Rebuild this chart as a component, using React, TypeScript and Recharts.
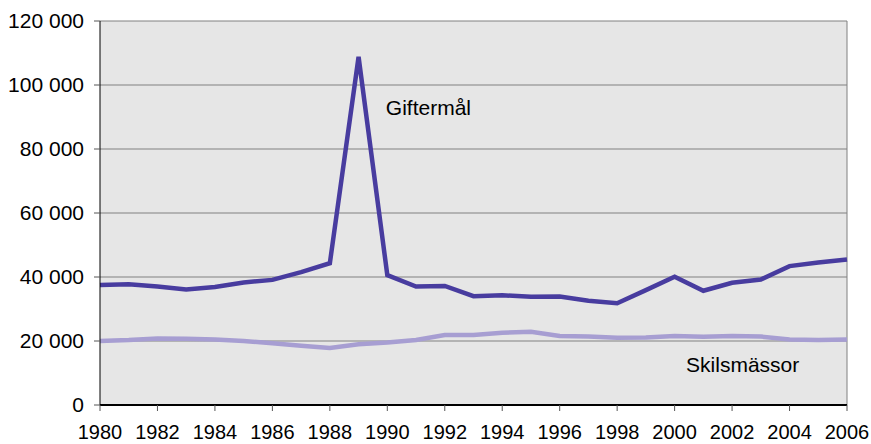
import { CartesianGrid, Line, LineChart, ReferenceDot, ReferenceLine, XAxis, YAxis } from 'recharts';

// Giftermål och skilsmässor 1980–2006
const years = [
  1980, 1981, 1982, 1983, 1984, 1985, 1986, 1987, 1988, 1989, 1990, 1991, 1992, 1993,
  1994, 1995, 1996, 1997, 1998, 1999, 2000, 2001, 2002, 2003, 2004, 2005, 2006,
];
const giftermal = [
  37500, 37700, 37000, 36100, 36900, 38300, 39100, 41500, 44300, 108800, 40600, 37000, 37200,
  34000, 34300, 33800, 33900, 32600, 31800, 35900, 40100, 35700, 38200, 39200, 43400, 44500,
  45500,
];
const skilsmassor = [
  20000, 20300, 20800, 20700, 20500, 20000, 19300, 18500, 17800, 19000, 19500, 20300, 21900,
  21900, 22600, 22900, 21600, 21400, 21000, 21100, 21600, 21300, 21600, 21400, 20500, 20300,
  20500,
];
const xTicks = [1980, 1982, 1984, 1986, 1988, 1990, 1992, 1994, 1996, 1998, 2000, 2002, 2004, 2006];
const yTicks = [0, 20000, 40000, 60000, 80000, 100000, 120000];

const data = years.map((year, i) => ({
  year,
  giftermal: giftermal[i],
  skilsmassor: skilsmassor[i],
}));

const DARK = '#483c9f';
const LIGHT = '#a79ed2';
const FONT = 'Arial, "Liberation Sans", sans-serif';

const fmt = (v: number) => String(v).replace(/\B(?=(\d{3})+(?!\d))/g, ' ');

function seriesLabel(text: string) {
  return (props: any) => {
    const vb = props.viewBox || {};
    return (
      <text x={vb.x} y={vb.y} fill="#000" fontSize={21} fontFamily={FONT} textAnchor="start">
        {text}
      </text>
    );
  };
}

export default function App() {
  return (
    <div style={{ position: 'absolute', left: 0, top: 0, background: '#fff' }}>
      <LineChart
        width={871}
        height={444}
        data={data}
        margin={{ top: 21, right: 24, bottom: 0, left: 0 }}
      >
        <CartesianGrid fill="#e6e6e6" stroke="#808080" vertical={false} />
        <XAxis
          dataKey="year"
          type="number"
          domain={[1980, 2006]}
          ticks={xTicks}
          height={39}
          stroke="#000"
          strokeWidth={2}
          tickSize={6}
          tickMargin={14}
          tickLine={{ stroke: '#555', strokeWidth: 1 }}
          tick={{ fill: '#000', fontSize: 20, fontFamily: FONT }}
          interval={0}
        />
        <YAxis
          domain={[0, 120000]}
          ticks={yTicks}
          width={100}
          stroke="#000"
          tickSize={6}
          tickMargin={10}
          tickLine={{ stroke: '#555' }}
          tick={{ fill: '#000', fontSize: 21, fontFamily: FONT }}
          tickFormatter={fmt}
          interval={0}
        />
        <ReferenceLine x={2006} stroke="#808080" />
        <Line
          dataKey="skilsmassor"
          stroke={LIGHT}
          strokeWidth={4.5}
          dot={false}
          isAnimationActive={false}
        />
        <Line
          dataKey="giftermal"
          stroke={DARK}
          strokeWidth={4.5}
          dot={false}
          isAnimationActive={false}
        />
        <ReferenceDot x={1989.95} y={90600} r={0} stroke="none" label={seriesLabel('Giftermål')} />
        <ReferenceDot x={2000.4} y={10400} r={0} stroke="none" label={seriesLabel('Skilsmässor')} />
      </LineChart>
    </div>
  );
}
